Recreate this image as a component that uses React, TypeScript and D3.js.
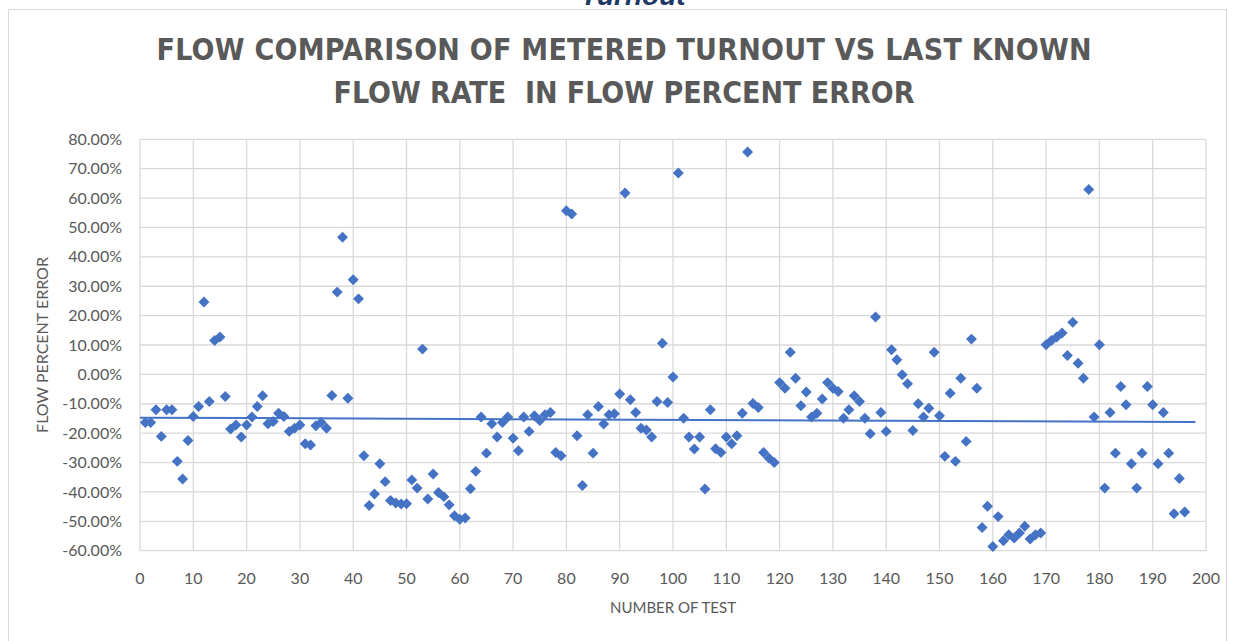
import React from 'react';
import * as d3 from 'd3';

// flow percent error for each test, in test order (test 1 .. 196)
const percentError = [
  -16.4, -16.4, -12.0, -21.1, -12.0, -12.0, -29.6, -35.6, -22.5, -14.3,
  -10.9, 24.6, -9.2, 11.5, 12.7, -7.5, -18.6, -17.2, -21.3, -17.2,
  -14.5, -10.9, -7.3, -16.8, -16.0, -13.2, -14.3, -19.4, -18.3, -17.2,
  -23.6, -24.0, -17.5, -16.4, -18.3, -7.2, 28.0, 46.7, -8.1, 32.2,
  25.7, -27.7, -44.6, -40.7, -30.4, -36.5, -42.9, -43.8, -44.1, -44.0,
  -35.9, -38.7, 8.6, -42.4, -33.9, -40.2, -41.6, -44.4, -48.1, -49.3,
  -48.9, -38.9, -33.0, -14.5, -26.8, -16.8, -21.3, -16.4, -14.5, -21.7,
  -26.0, -14.5, -19.4, -14.1, -15.7, -13.7, -13.0, -26.6, -27.7, 55.7,
  54.6, -20.9, -37.8, -13.7, -26.8, -10.9, -16.9, -13.7, -13.4, -6.7,
  61.7, -8.6, -13.0, -18.3, -18.9, -21.3, -9.2, 10.6, -9.6, -0.9,
  68.5, -14.9, -21.3, -25.4, -21.3, -39.0, -12.0, -25.3, -26.6, -21.3,
  -23.6, -20.9, -13.2, 75.7, -9.9, -11.3, -26.6, -28.5, -30.0, -2.8,
  -4.7, 7.5, -1.3, -10.7, -6.0, -14.5, -13.2, -8.4, -2.8, -4.7,
  -5.8, -14.9, -12.0, -7.3, -9.2, -14.9, -20.2, 19.5, -13.0, -19.4,
  8.4, 5.0, -0.1, -3.2, -19.1, -10.0, -14.5, -11.5, 7.5, -14.1,
  -27.9, -6.4, -29.6, -1.3, -22.8, 12.0, -4.7, -52.1, -44.9, -58.6,
  -48.4, -56.6, -54.6, -55.7, -54.0, -51.7, -56.0, -54.6, -54.0, 10.1,
  11.5, 12.7, 14.1, 6.4, 17.7, 3.8, -1.3, 62.9, -14.5, 10.1,
  -38.7, -13.0, -26.8, -4.1, -10.3, -30.4, -38.7, -26.8, -4.1, -10.3,
  -30.4, -13.0, -26.8, -47.4, -35.4, -46.8,
];

const xTicks = [0, 10, 20, 30, 40, 50, 60, 70, 80, 90, 100, 110, 120, 130, 140, 150, 160, 170, 180, 190, 200];
const yTicks = [80, 70, 60, 50, 40, 30, 20, 10, 0, -10, -20, -30, -40, -50, -60];
const trendRange = [0, 198];

const titleLines = ['FLOW COMPARISON OF METERED TURNOUT VS LAST KNOWN', 'FLOW RATE  IN FLOW PERCENT ERROR'];

class App extends React.Component {
  svg = React.createRef<SVGSVGElement>();

  componentDidMount() {
    this.renderChart();
  }

  renderChart = () => {
    const width = 1233;
    const height = 641;
    const margin = { top: 139.3, right: 27, bottom: 90.3, left: 140 };
    const blue = '#4472c4';
    const grey = '#595959';
    const font = "Lato, 'Liberation Sans', sans-serif";

    const svg = d3.select(this.svg.current);
    svg.selectAll('*').remove();

    const data = percentError.map((v, i) => ({ test: i + 1, value: v }));

    const x = d3.scaleLinear().domain([0, 200]).range([margin.left, width - margin.right]);
    const y = d3.scaleLinear().domain([-60, 80]).range([height - margin.bottom, margin.top]);

    svg.append('rect').attr('width', width).attr('height', height).attr('fill', '#fff');

    // cut-off heading from the page above
    svg.append('text')
      .attr('x', 633).attr('y', 5)
      .attr('text-anchor', 'middle')
      .attr('font-family', "'Liberation Sans', Arial, sans-serif")
      .attr('font-weight', 'bold').attr('font-style', 'italic')
      .attr('font-size', 28).attr('fill', '#1f3864')
      .text('Turnout');

    // chart frame
    svg.append('rect')
      .attr('x', 8.5).attr('y', 9.5)
      .attr('width', 1218).attr('height', 645)
      .attr('fill', 'none').attr('stroke', '#d9d9d9');

    // title
    svg.append('g').selectAll('text')
      .data(titleLines).enter().append('text')
      .attr('x', 624)
      .attr('y', (d, i) => 60 + i * 43)
      .attr('text-anchor', 'middle')
      .attr('font-family', "'Liberation Sans Narrow', 'DejaVu Sans Condensed', Lato, sans-serif")
      .attr('font-weight', 'bold')
      .attr('font-size', 30).attr('fill', grey)
      .attr('textLength', (d, i) => (i === 0 ? 935 : 581))
      .attr('lengthAdjust', 'spacing')
      .style('white-space', 'pre')
      .text(d => d);

    // grid
    const grid = svg.append('g').attr('stroke', '#d9d9d9').attr('stroke-width', 1.3);
    grid.selectAll('.gx').data(xTicks).enter().append('line')
      .attr('x1', d => x(d)).attr('x2', d => x(d))
      .attr('y1', y(80)).attr('y2', y(-60));
    grid.selectAll('.gy').data(yTicks).enter().append('line')
      .attr('x1', x(0)).attr('x2', x(200))
      .attr('y1', d => y(d)).attr('y2', d => y(d));

    // tick labels
    svg.append('g').selectAll('text')
      .data(yTicks).enter().append('text')
      .attr('x', 122).attr('y', d => y(d))
      .attr('dy', '0.35em').attr('text-anchor', 'end')
      .attr('font-family', font).attr('font-size', 16).attr('fill', grey)
      .text(d => d.toFixed(2) + '%');
    svg.append('g').selectAll('text')
      .data(xTicks).enter().append('text')
      .attr('x', d => x(d)).attr('y', 584)
      .attr('text-anchor', 'middle')
      .attr('font-family', font).attr('font-size', 16).attr('fill', grey)
      .text(d => d);

    // axis titles
    svg.append('text')
      .attr('transform', 'translate(48,345) rotate(-90)')
      .attr('text-anchor', 'middle')
      .attr('font-family', font).attr('font-size', 16).attr('fill', grey)
      .text('FLOW PERCENT ERROR');
    svg.append('text')
      .attr('x', (x(0) + x(200)) / 2).attr('y', 613)
      .attr('text-anchor', 'middle')
      .attr('font-family', font).attr('font-size', 15).attr('fill', grey)
      .text('NUMBER OF TEST');

    // linear trendline (least squares)
    const mx = d3.mean(data, d => d.test);
    const my = d3.mean(data, d => d.value);
    const sxy = d3.sum(data, d => (d.test - mx) * (d.value - my));
    const sxx = d3.sum(data, d => (d.test - mx) * (d.test - mx));
    const slope = sxy / sxx;
    const intercept = my - slope * mx;
    const line = d3.line<number>().x(d => x(d)).y(d => y(intercept + slope * d));
    svg.append('path')
      .attr('d', line(trendRange))
      .attr('fill', 'none').attr('stroke', blue).attr('stroke-width', 2);

    // markers
    const diamond = d3.symbol().type(d3.symbolSquare).size(60);
    svg.append('g').selectAll('path')
      .data(data).enter().append('path')
      .attr('d', diamond)
      .attr('transform', d => 'translate(' + x(d.test) + ',' + y(d.value) + ') rotate(45)')
      .attr('fill', blue);
  }

  render() {
    return (
      <svg ref={this.svg} width={1233} height={641}
        style={{ position: 'absolute', left: 0, top: 0, display: 'block' }} />
    );
  }
}

export default App;
